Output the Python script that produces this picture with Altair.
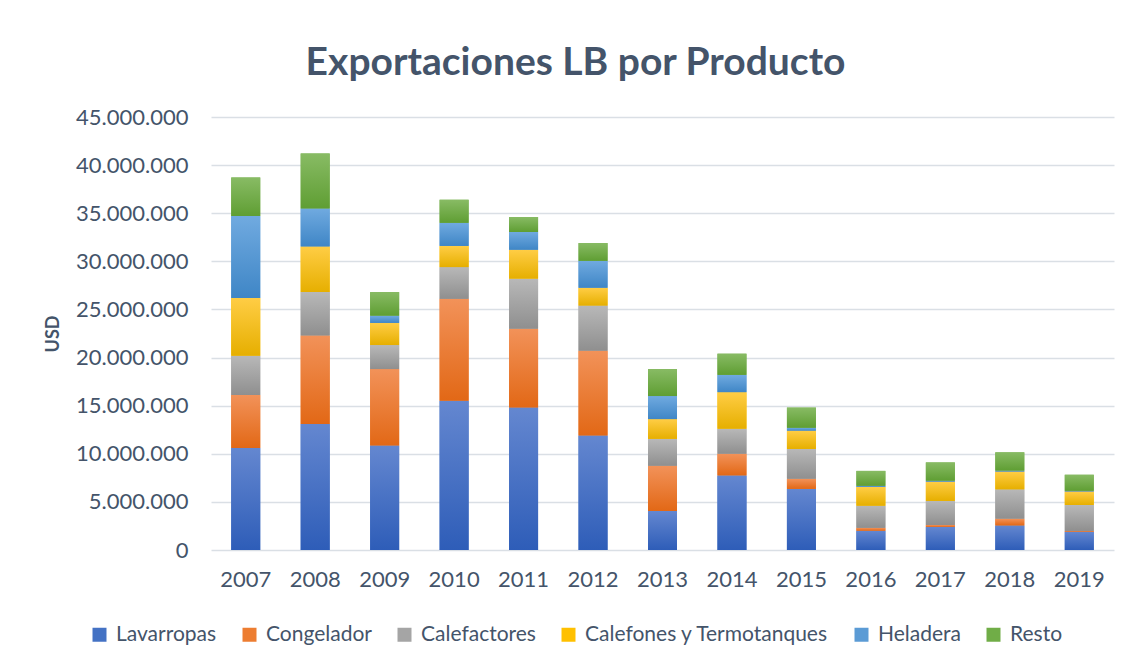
import altair as alt
import pandas as pd

years = ["2007", "2008", "2009", "2010", "2011", "2012", "2013",
         "2014", "2015", "2016", "2017", "2018", "2019"]
series = ["Lavarropas", "Congelador", "Calefactores",
          "Calefones y Termotanques", "Heladera", "Resto"]

lavarropas = [10.6, 13.1, 10.85, 15.5, 14.8, 11.9, 4.05, 7.75, 6.35, 2.0, 2.4, 2.55, 1.9]
congelador = [5.5, 9.2, 7.95, 10.6, 8.2, 8.8, 4.7, 2.25, 1.05, 0.3, 0.2, 0.7, 0.08]
calefactores = [4.1, 4.5, 2.5, 3.3, 5.2, 4.7, 2.8, 2.6, 3.1, 2.3, 2.5, 3.05, 2.7]
calefones = [6.0, 4.75, 2.3, 2.2, 3.0, 1.85, 2.05, 3.8, 1.9, 1.95, 2.0, 1.85, 1.4]
heladera = [8.5, 3.95, 0.75, 2.4, 1.85, 2.8, 2.4, 1.8, 0.3, 0.12, 0.1, 0.1, 0.07]
resto = [4.0, 5.7, 2.45, 2.4, 1.55, 1.85, 2.8, 2.2, 2.1, 1.55, 1.9, 1.9, 1.67]

values_millions = [lavarropas, congelador, calefactores, calefones, heladera, resto]

base_colors = ["#4472C4", "#ED7D31", "#A5A5A5", "#FFC000", "#5B9BD5", "#70AD47"]
top_colors = ["#6487D0", "#F29259", "#B8B8B8", "#FFCD45", "#70AAE0", "#88BB64"]
bottom_colors = ["#2E5DB8", "#E26816", "#8F8F8F", "#E6AF00", "#3F86C6", "#5F9E33"]

y_ticks = [0, 5e6, 10e6, 15e6, 20e6, 25e6, 30e6, 35e6, 40e6, 45e6]

rows = []
for si, (name, vals) in enumerate(zip(series, values_millions)):
    for y, v in zip(years, vals):
        rows.append({"year": y, "serie": name, "order": si, "value": v * 1e6})
df = pd.DataFrame(rows)

TEXT = "#44546A"
FONT = "Lato"

x_enc = alt.X("year:N", sort=years,
              scale=alt.Scale(paddingInner=0, paddingOuter=0),
              axis=alt.Axis(title=None, labelAngle=0, ticks=False, domain=False,
                            labelFontSize=22, labelFont=FONT, labelColor=TEXT,
                            labelPadding=19, grid=False))
y_enc = alt.Y("v0:Q", scale=alt.Scale(domain=[0, 45e6], nice=False),
              axis=alt.Axis(title="USD", values=y_ticks, ticks=False, domain=False,
                            labelFontSize=22, labelFont=FONT, labelColor=TEXT,
                            labelPadding=23,
                            labelExpr="replace(format(datum.value, ',d'), regexp(',', 'g'), '.')",
                            titleFontSize=18, titleFont=FONT, titleFontWeight="bold",
                            titleColor=TEXT, titlePadding=13,
                            gridColor="#DADFE5", gridWidth=1.5))

base = alt.Chart(df).transform_stack(
    stack="value", groupby=["year"], as_=["v0", "v1"],
    sort=[alt.SortField("order", order="ascending")]
)

legend_layer = base.mark_bar(size=29).encode(
    x=x_enc,
    y=y_enc,
    y2="v1:Q",
    color=alt.Color("serie:N", sort=series,
                    scale=alt.Scale(domain=series, range=base_colors),
                    legend=alt.Legend(title=None, orient="none", direction="horizontal",
                                      legendX=-122, legendY=507, columns=6,
                                      symbolType="square", symbolSize=196,
                                      symbolStrokeWidth=0, labelOffset=6,
                                      columnPadding=22, labelFontSize=21,
                                      labelFont=FONT, labelColor=TEXT,
                                      labelLimit=400)),
)

layers = [legend_layer]
for i, name in enumerate(series):
    grad = alt.Gradient(gradient="linear",
                        stops=[alt.GradientStop(color=top_colors[i], offset=0),
                               alt.GradientStop(color=bottom_colors[i], offset=1)],
                        x1=0, x2=0, y1=0, y2=1)
    layers.append(
        base.transform_filter(alt.datum.serie == name)
        .mark_bar(size=29, fill=grad)
        .encode(x=alt.X("year:N", sort=years), y="v0:Q", y2="v1:Q")
    )

chart = alt.layer(*layers).properties(
    width=903, height=433,
    title=alt.TitleParams("Exportaciones LB por Producto", fontSize=39, font=FONT,
                          fontWeight="bold", color=TEXT, anchor="middle",
                          frame="group", dx=-87, offset=23),
    padding={"left": 203, "top": 109, "right": 5, "bottom": 100},
    autosize=alt.AutoSizeParams(type="none"),
).configure(background="white").configure_view(stroke=None)

chart.save("out.html", embed_options={"renderer": "svg", "actions": False})
